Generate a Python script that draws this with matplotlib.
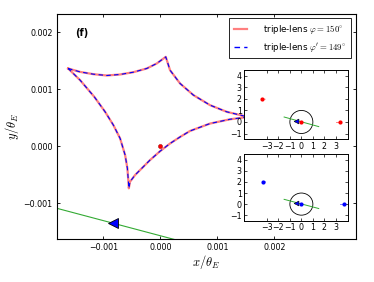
import numpy as np
import matplotlib
matplotlib.use("Agg")
import matplotlib.pyplot as plt

plt.rcParams['mathtext.fontset'] = 'cm'
plt.rcParams['font.family'] = ['DejaVu Sans']

# caustic (units of 1e-3 theta_E), closed loop
caustic_x = [-1.619, -1.409, -1.175, -0.940, -0.707, -0.474, -0.239, -0.063, 0.095,
             0.170, 0.346, 0.579, 0.872, 1.165, 1.456, 1.535,
             1.223, 0.872, 0.521, 0.346, 0.170, -0.005, -0.181, -0.326, -0.444, -0.532, -0.554,
             -0.561, -0.579, -0.619, -0.707, -0.825, -0.970, -1.160, -1.409, -1.619]
caustic_y = [1.366, 1.306, 1.266, 1.243, 1.261, 1.301, 1.366, 1.454, 1.570,
             1.336, 1.103, 0.900, 0.723, 0.606, 0.536, 0.515,
             0.475, 0.400, 0.270, 0.165, 0.050, -0.085, -0.240, -0.385, -0.503, -0.620, -0.736,
             -0.620, -0.385, -0.152, 0.140, 0.373, 0.606, 0.869, 1.161, 1.366]

# source track in main panel (units of 1e-3)
track_x = [-2.0, 0.4]
track_y = [-1.038, -1.674]
arrow_x = [-0.825]
arrow_y = [-1.349]
lens_main_x = [0.0]
lens_main_y = [0.0]

# insets: lens positions
lens1_x = [-3.44, 0.0, 3.37]
lens1_y = [1.99, 0.0, 0.0]
lens2_x = [-3.36, 0.0, 3.71]
lens2_y = [2.02, 0.0, 0.0]
itrack_x = [-1.50, 1.51]
itrack_y = [0.43, -0.40]
iarrow_x = [-0.46]
iarrow_y = [0.09]
# small planetary caustics
pc1 = [([-3.40, -3.15], [1.99, 1.97]), ([3.05, 3.37], [0.0, 0.0])]
pc2 = [([-3.36, -3.12], [2.02, 2.00]), ([3.35, 3.71], [0.0, 0.0])]

labels = [r'triple-lens $\varphi=150^{\circ}$', r"triple-lens $\varphi'=149^{\circ}$"]

fs = 5.7
fig = plt.figure(figsize=(3.74, 2.82), dpi=100)
ax = fig.add_axes([0.1516, 0.1535, 0.7995, 0.7965])
cx = np.array(caustic_x) * 1e-3
cy = np.array(caustic_y) * 1e-3
ax.plot(cx, cy, color='red', alpha=0.5, lw=1.6, label=labels[0])
ax.plot(cx, cy, color='blue', lw=0.8, ls=(0, (4, 3)), label=labels[1])
ax.plot(np.array(track_x) * 1e-3, np.array(track_y) * 1e-3, color='#33aa33', lw=0.8)
ax.plot(np.array(arrow_x) * 1e-3, np.array(arrow_y) * 1e-3, marker='<', ms=7.5,
        mfc='blue', mec='black', mew=0.6, ls='none')
ax.plot(lens_main_x, lens_main_y, 'o', color='red', ms=3, mec='#880000', mew=0.3)
ax.set_xlim(-0.00182, 0.00343)
ax.set_ylim(-0.00162, 0.00232)
ax.set_xticks([-0.001, 0.0, 0.001, 0.002])
ax.set_yticks([-0.001, 0.0, 0.001, 0.002])
ax.set_xticklabels(['\u22120.001', '0.000', '0.001', '0.002'])
ax.set_yticklabels(['\u22120.001', '0.000', '0.001', '0.002'])
ax.tick_params(direction='in', top=True, right=True, labelsize=fs, length=2.5, width=0.6, pad=3)
for s in ax.spines.values():
    s.set_linewidth(0.8)
ax.set_xlabel(r'$x/\theta_E$', fontsize=9, labelpad=1)
ax.set_ylabel(r'$y/\theta_E$', fontsize=9, labelpad=2)
ax.text(0.06, 0.94, '(f)', transform=ax.transAxes, fontsize=7, fontweight='bold', va='top')
leg = ax.legend(loc='upper right', fontsize=6.3, labelspacing=0.5, handlelength=1.5,
                handletextpad=1.8, borderpad=0.55, fancybox=False, framealpha=1,
                edgecolor='black', borderaxespad=0.5)
leg.get_frame().set_linewidth(0.6)
leg.get_lines()[1].set_linewidth(1.0)

for pos, lx, ly, col, pcs in [([0.6537, 0.506, 0.2781, 0.2458], lens1_x, lens1_y, 'red', pc1),
                              ([0.6537, 0.2174, 0.2781, 0.2354], lens2_x, lens2_y, 'blue', pc2)]:
    ia = fig.add_axes(pos)
    for px, py in pcs:
        ia.plot(px, py, color=col, lw=0.6, alpha=0.6)
    ia.add_patch(plt.Circle((0, 0), 1.0, fill=False, color='black', lw=0.6))
    ia.plot(itrack_x, itrack_y, color='#33aa33', lw=0.7)
    ia.plot(iarrow_x, iarrow_y, marker='<', ms=3.5, mfc='blue', mec='black', mew=0.4, ls='none')
    ia.plot(lx, ly, 'o', color=col, ms=3, mew=0)
    ia.set_xlim(-4.95, 4.1)
    ia.set_ylim(-1.5, 4.5)
    ia.set_xticks([-3, -2, -1, 0, 1, 2, 3])
    ia.set_yticks([-1, 0, 1, 2, 3, 4])
    ia.set_xticklabels(['\u22123', '\u22122', '\u22121', '0', '1', '2', '3'])
    ia.set_yticklabels(['\u22121', '0', '1', '2', '3', '4'])
    ia.tick_params(direction='in', top=True, right=True, labelsize=fs, length=2, width=0.5, pad=2)
    for s in ia.spines.values():
        s.set_linewidth(0.7)

fig.savefig('out.png', dpi=100)
